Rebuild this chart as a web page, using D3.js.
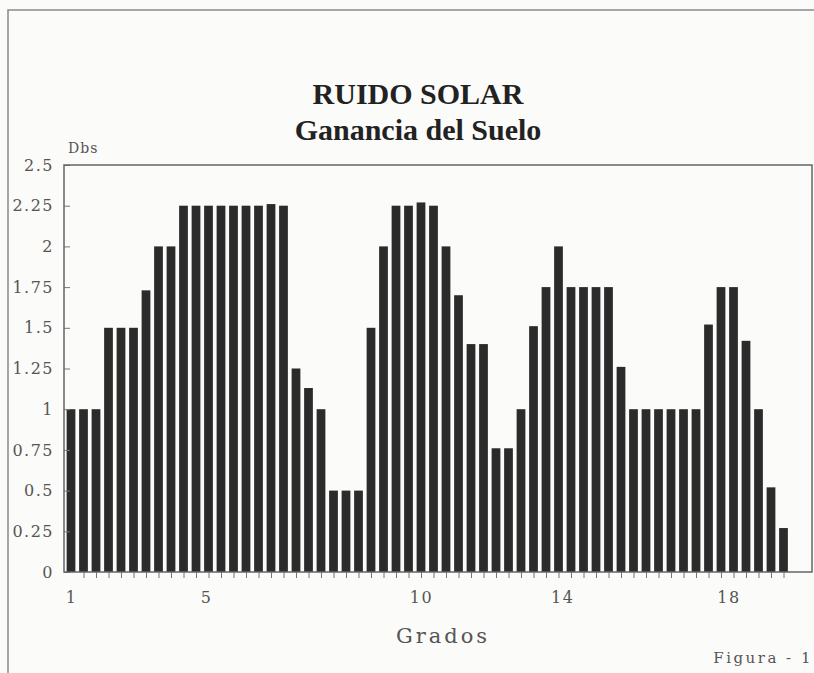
<!DOCTYPE html>
<html>
<head>
<meta charset="utf-8">
<script src="https://cdn.jsdelivr.net/npm/d3@7"></script>
<style>
  html, body { margin: 0; padding: 0; background: #fbfbf9; }
  svg { display: block; }
</style>
</head>
<body>
<script>
// Ganancia del suelo por muestra (Dbs)
const barIndex = d3.range(1, 59);
const dbs = [
  1.0, 1.0, 1.0, 1.5, 1.5, 1.5, 1.73, 2.0, 2.0,
  2.25, 2.25, 2.25, 2.25, 2.25, 2.25, 2.25, 2.26, 2.25,
  1.25, 1.13, 1.0, 0.5, 0.5, 0.5, 1.5, 2.0, 2.25, 2.25,
  2.27, 2.25, 2.0, 1.7, 1.4, 1.4, 0.76, 0.76, 1.0, 1.51,
  1.75, 2.0, 1.75, 1.75, 1.75, 1.75, 1.26, 1.0, 1.0, 1.0,
  1.0, 1.0, 1.0, 1.52, 1.75, 1.75, 1.42, 1.0, 0.52, 0.27
];
const yTicks = [0, 0.25, 0.5, 0.75, 1, 1.25, 1.5, 1.75, 2, 2.25, 2.5];
const yTickLabels = ["0", "0.25", "0.5", "0.75", "1", "1.25", "1.5", "1.75", "2", "2.25", "2.5"];
const gradoLabels = ["1", "5", "10", "14", "18"];
const gradoAt = [1, 11.8, 29, 40.3, 53.6];

const W = 814, H = 673;
const plot = { left: 64, right: 812, top: 165, bottom: 572 };
const ink = "#555";
const axisFont = "'DejaVu Serif', serif";

const svg = d3.select("body").append("svg")
  .attr("width", W).attr("height", H);

svg.append("rect").attr("width", W).attr("height", H).attr("fill", "#fbfbf9");

// outer figure frame (top and left edges)
svg.append("path")
  .attr("d", `M8,${H} L8,10 L${W},10`)
  .attr("fill", "none").attr("stroke", "#8a8a8a").attr("stroke-width", 1.5);

const x = d3.scaleLinear().domain([0.44, 60.28]).range([plot.left, plot.right]);
const y = d3.scaleLinear().domain([0, 2.5]).range([plot.bottom, plot.top]);
const barW = (x(2) - x(1)) * 0.7;

// titles
svg.append("text")
  .attr("x", 418).attr("y", 104)
  .attr("text-anchor", "middle")
  .attr("font-family", "'Liberation Serif', 'Times New Roman', serif")
  .attr("font-weight", "bold").attr("font-size", 30).attr("fill", "#222")
  .text("RUIDO SOLAR");
svg.append("text")
  .attr("x", 418).attr("y", 140)
  .attr("text-anchor", "middle")
  .attr("font-family", "'Liberation Serif', 'Times New Roman', serif")
  .attr("font-weight", "bold").attr("font-size", 30).attr("fill", "#222")
  .text("Ganancia del Suelo");

// bars
svg.append("g").selectAll("rect")
  .data(dbs)
  .join("rect")
  .attr("x", (d, i) => x(barIndex[i]) - barW / 2)
  .attr("y", d => y(d))
  .attr("width", barW)
  .attr("height", d => y(0) - y(d))
  .attr("fill", "#2b2b2b");

// y axis: ticks pointing into the plot
const yAxis = svg.append("g")
  .attr("transform", `translate(${plot.left},0)`)
  .call(d3.axisLeft(y).tickValues(yTicks).tickSize(-6).tickPadding(10)
    .tickFormat((d, i) => yTickLabels[i]));
yAxis.select(".domain").remove();
yAxis.selectAll("line").attr("stroke", "#777");
yAxis.selectAll("text")
  .attr("font-family", axisFont).attr("font-size", 16)
  .attr("letter-spacing", 1.5).attr("fill", ink);

// x axis: a tick under each bar
const xTicks = svg.append("g")
  .attr("transform", `translate(0,${plot.bottom})`)
  .call(d3.axisBottom(x).tickValues(barIndex.slice(1)).tickSize(6).tickFormat(""));
xTicks.select(".domain").remove();
xTicks.selectAll("line").attr("stroke", "#777");

// grados labels
const xLabels = svg.append("g")
  .attr("transform", `translate(0,${plot.bottom})`)
  .call(d3.axisBottom(x).tickValues(gradoAt).tickSize(0).tickPadding(20)
    .tickFormat((d, i) => gradoLabels[i]));
xLabels.select(".domain").remove();
xLabels.selectAll("text")
  .attr("font-family", axisFont).attr("font-size", 16)
  .attr("letter-spacing", 1.5).attr("fill", ink);

// plot frame
svg.append("rect")
  .attr("x", plot.left).attr("y", plot.top)
  .attr("width", plot.right - plot.left).attr("height", plot.bottom - plot.top)
  .attr("fill", "none").attr("stroke", "#666").attr("stroke-width", 1.5);

// axis titles
svg.append("text")
  .attr("x", 68).attr("y", 153)
  .attr("font-family", axisFont).attr("font-size", 14)
  .attr("letter-spacing", 1).attr("fill", ink)
  .text("Dbs");
svg.append("text")
  .attr("x", 443).attr("y", 643)
  .attr("text-anchor", "middle")
  .attr("font-family", axisFont).attr("font-size", 21)
  .attr("letter-spacing", 3).attr("fill", ink)
  .text("Grados");
svg.append("text")
  .attr("x", 813).attr("y", 663)
  .attr("text-anchor", "end")
  .attr("font-family", axisFont).attr("font-size", 15)
  .attr("letter-spacing", 2.5).attr("fill", ink)
  .text("Figura - 1");
</script>
</body>
</html>
